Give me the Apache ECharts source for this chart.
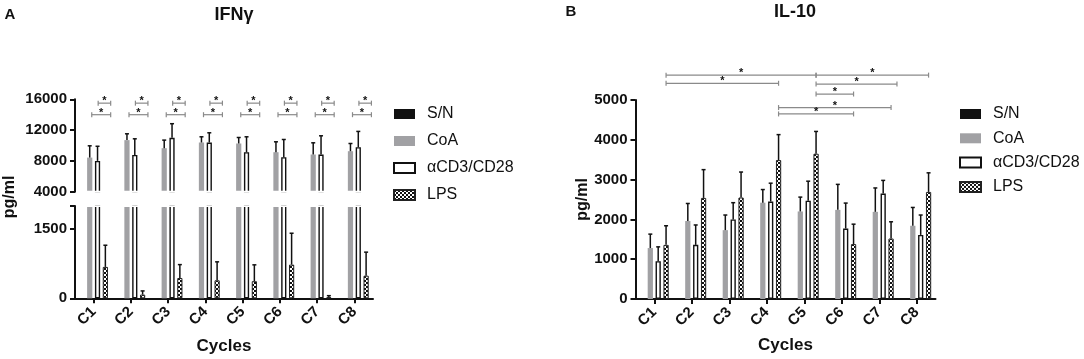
<!DOCTYPE html>
<html>
<head>
<meta charset="utf-8">
<script src="https://cdn.jsdelivr.net/npm/echarts@6/dist/echarts.min.js"></script>
<style>
  html, body { margin: 0; padding: 0; background: #fff; }
  #chart { width: 1084px; height: 359px; }
</style>
</head>
<body>
<div id="chart"></div>
<script>
const cycles = ["C1", "C2", "C3", "C4", "C5", "C6", "C7", "C8"];
const groups = ["S/N", "CoA", "αCD3/CD28", "LPS"];

// panel A, IFNγ (pg/ml); err = top of the error bar
const ifnSN = [0, 0, 0, 0, 0, 0, 0, 0];
const ifnCoA = [8430, 10700, 9650, 10390, 10260, 9130, 8830, 9260];
const ifnCoAErr = [9960, 11520, 10700, 11130, 11040, 10480, 10350, 10260];
const ifnCD3 = [8000, 8780, 11000, 10390, 9130, 8480, 8830, 9780];
const ifnCD3Err = [9900, 10870, 12830, 11650, 11130, 10780, 11260, 11830];
const ifnLPS = [680, 80, 440, 390, 370, 730, 25, 490];
const ifnLPSErr = [1150, 160, 730, 790, 725, 1410, 57, 1000];

// panel B, IL-10 (pg/ml)
const il10SN = [0, 0, 0, 0, 0, 0, 0, 0];
const il10CoA = [1280, 1960, 1730, 2420, 2200, 2240, 2190, 1840];
const il10CoAErr = [1630, 2400, 2110, 2750, 2560, 2880, 2790, 2300];
const il10CD3 = [950, 1360, 2000, 2450, 2470, 1770, 2650, 1610];
const il10CD3Err = [1310, 1860, 2420, 2910, 2960, 2410, 2980, 2110];
const il10LPS = [1360, 2540, 2550, 3490, 3650, 1380, 1520, 2690];
const il10LPSErr = [1840, 3250, 3190, 4130, 4210, 1880, 1940, 3170];

// significance brackets: [fromCycle, fromSlot, toCycle, toSlot, height]
const ifnBrackets = cycles.flatMap((_, i) => [
  [i, 1.26, i, 3.68, 14000],
  [i, 2.08, i, 3.68, 15500],
]);
const il10Brackets = [
  [0, 3, 4, 3, 5625],
  [0, 3, 3, 3, 5420],
  [4, 3, 7, 3, 5625],
  [4, 3, 6, 3.75, 5400],
  [4, 3, 5, 3, 5150],
  [3, 3, 6, 3, 4810],
  [3, 3, 5, 3, 4650],
];

const FONT = "'Liberation Sans', Arial, Helvetica, sans-serif";
const INK = "#111";
const CAT_GAP = 0.23;
const BAR_GAP = 0.5;

const checker = document.createElement("canvas");
checker.width = 4;
checker.height = 4;
const cx = checker.getContext("2d");
cx.fillStyle = "#fff";
cx.fillRect(0, 0, 4, 4);
cx.fillStyle = "#111";
cx.fillRect(0, 0, 2, 2);
cx.fillRect(2, 2, 2, 2);

const styles = [
  { color: "#111" },
  { color: "#a1a1a4" },
  { color: "#fff", borderColor: "#111", borderWidth: 1.4 },
  { color: { image: checker, repeat: "repeat" }, borderColor: "#222", borderWidth: 1 },
];

function slotX(api, cat, slot) {
  const band = api.size([1, 0])[0];
  const bw = (band * (1 - CAT_GAP)) / (groups.length + (groups.length - 1) * BAR_GAP);
  const c = api.coord([cat, 0])[0];
  return c + (slot - (groups.length - 1) / 2) * bw * (1 + BAR_GAP);
}

function renderErr(params, api) {
  const cat = api.value(0);
  const x = slotX(api, cat, api.value(3));
  const y0 = api.coord([cat, api.value(1)])[1];
  const y1 = api.coord([cat, api.value(2)])[1];
  const st = { stroke: INK, lineWidth: 1.5 };
  return {
    type: "group",
    children: [
      { type: "line", shape: { x1: x, y1: y0, x2: x, y2: y1 }, style: st },
      { type: "line", shape: { x1: x - 2, y1: y1, x2: x + 2, y2: y1 }, style: st },
    ],
  };
}

function renderBracket(params, api) {
  const xa = slotX(api, api.value(0), api.value(1));
  const xb = slotX(api, api.value(2), api.value(3));
  const y = api.coord([api.value(0), api.value(4)])[1];
  const st = { stroke: "#8a8a8a", lineWidth: 1.2 };
  return {
    type: "group",
    children: [
      { type: "line", shape: { x1: xa, y1: y, x2: xb, y2: y }, style: st },
      { type: "line", shape: { x1: xa, y1: y - 2.5, x2: xa, y2: y + 2.5 }, style: st },
      { type: "line", shape: { x1: xb, y1: y - 2.5, x2: xb, y2: y + 2.5 }, style: st },
      {
        type: "text",
        x: (xa + xb) / 2,
        y: y - 2,
        style: { text: "*", font: "bold 11px " + FONT, fill: INK, align: "center", verticalAlign: "middle" },
      },
    ],
  };
}

function errData(slot, means, tops) {
  return means.map((m, i) => [i, m, tops[i], slot]);
}

function bars(gridIdx, values) {
  return groups.map((name, k) => ({
    name,
    type: "bar",
    xAxisIndex: gridIdx,
    yAxisIndex: gridIdx,
    data: values[k],
    itemStyle: styles[k],
    barCategoryGap: CAT_GAP * 100 + "%",
    barGap: BAR_GAP * 100 + "%",
    silent: true,
  }));
}

const axisLine = { show: true, lineStyle: { color: INK, width: 2 } };
const axisTick = { show: true, length: 5, lineStyle: { color: INK, width: 2 } };
const tickLabel = {
  color: INK,
  fontSize: 15,
  fontWeight: "bold",
  fontFamily: FONT,
  margin: 8,
  formatter: (v) => String(v),
};

const xCat = (gridIndex, visible) => ({
  type: "category",
  gridIndex,
  data: cycles,
  show: visible,
  axisLine,
  axisTick: { ...axisTick, alignWithLabel: true },
  axisLabel: { ...tickLabel, formatter: undefined, rotate: 45, margin: 11 },
  name: "Cycles",
  nameLocation: "middle",
  nameGap: 40,
  nameTextStyle: { color: INK, fontSize: 17, fontWeight: "bold", fontFamily: FONT },
});

const yVal = (gridIndex, min, max, interval, extra) => ({
  type: "value",
  gridIndex,
  min,
  max,
  interval,
  axisLine,
  axisTick,
  splitLine: { show: false },
  axisLabel: { ...tickLabel },
  ...extra,
});

const legendBase = {
  orient: "vertical",
  icon: "rect",
  itemWidth: 21,
  itemHeight: 10,
  padding: 0,
  selectedMode: false,
  data: groups,
  textStyle: { color: INK, fontSize: 16, fontFamily: FONT, lineHeight: 18, padding: [0, 0, 0, 7] },
};

const chart = echarts.init(document.getElementById("chart"));
chart.setOption({
  animation: false,
  backgroundColor: "#fff",
  grid: [
    { left: 75, top: 99.3, width: 298, height: 92.4 },
    { left: 75, top: 206, width: 298, height: 92.3 },
    { left: 635.5, top: 100, width: 300, height: 201.7 },
  ],
  xAxis: [xCat(0, false), xCat(1, true), { ...xCat(2, true), nameGap: 38 }],
  yAxis: [
    yVal(0, 4000, 16000, 4000),
    yVal(1, 0, 2000, 1500, {
      axisLabel: { ...tickLabel, formatter: (v) => (v === 2000 ? "" : String(v)) },
    }),
    yVal(2, 0, 5000, 1000, {
      name: "pg/ml",
      nameLocation: "middle",
      nameGap: 44,
      nameTextStyle: { color: INK, fontSize: 16, fontWeight: "bold", fontFamily: FONT },
    }),
  ],
  legend: [
    { ...legendBase, left: 393, top: 105, itemGap: 9 },
    { ...legendBase, left: 959, top: 105, itemGap: 6.3 },
  ],
  graphic: [
    // white strips hide the clipped bar edges at the axis break
    { type: "rect", z: 100, shape: { x: 77, y: 190.8, width: 300, height: 1.9 }, style: { fill: "#fff" } },
    { type: "rect", z: 100, shape: { x: 77, y: 205.2, width: 300, height: 1.9 }, style: { fill: "#fff" } },
    { type: "text", x: 10, y: 15, style: { text: "A", font: "bold 15px " + FONT, fill: INK, align: "center", verticalAlign: "middle" } },
    { type: "text", x: 234, y: 15, style: { text: "IFNγ", font: "bold 18px " + FONT, fill: INK, align: "center", verticalAlign: "middle" } },
    { type: "text", x: 10, y: 197, rotation: Math.PI / 2, style: { text: "pg/ml", font: "bold 16px " + FONT, fill: INK, align: "center", verticalAlign: "middle" } },
    { type: "text", x: 571, y: 12, style: { text: "B", font: "bold 15px " + FONT, fill: INK, align: "center", verticalAlign: "middle" } },
    { type: "text", x: 795, y: 12, style: { text: "IL-10", font: "bold 18px " + FONT, fill: INK, align: "center", verticalAlign: "middle" } },
  ],
  series: [
    ...bars(0, [ifnSN, ifnCoA, ifnCD3, ifnLPS]),
    ...bars(1, [ifnSN, ifnCoA, ifnCD3, ifnLPS]),
    ...bars(2, [il10SN, il10CoA, il10CD3, il10LPS]),
    {
      type: "custom",
      xAxisIndex: 0,
      yAxisIndex: 0,
      renderItem: renderErr,
      data: [...errData(1, ifnCoA, ifnCoAErr), ...errData(2, ifnCD3, ifnCD3Err)],
      z: 3,
      silent: true,
    },
    {
      type: "custom",
      xAxisIndex: 1,
      yAxisIndex: 1,
      renderItem: renderErr,
      data: errData(3, ifnLPS, ifnLPSErr),
      z: 3,
      silent: true,
    },
    {
      type: "custom",
      xAxisIndex: 2,
      yAxisIndex: 2,
      renderItem: renderErr,
      data: [
        ...errData(1, il10CoA, il10CoAErr),
        ...errData(2, il10CD3, il10CD3Err),
        ...errData(3, il10LPS, il10LPSErr),
      ],
      z: 3,
      silent: true,
    },
    {
      type: "custom",
      xAxisIndex: 0,
      yAxisIndex: 0,
      renderItem: renderBracket,
      encode: { x: 0, y: 4 },
      data: ifnBrackets,
      clip: false,
      silent: true,
    },
    {
      type: "custom",
      xAxisIndex: 2,
      yAxisIndex: 2,
      renderItem: renderBracket,
      encode: { x: 0, y: 4 },
      data: il10Brackets,
      clip: false,
      silent: true,
    },
  ],
});
</script>
</body>
</html>
